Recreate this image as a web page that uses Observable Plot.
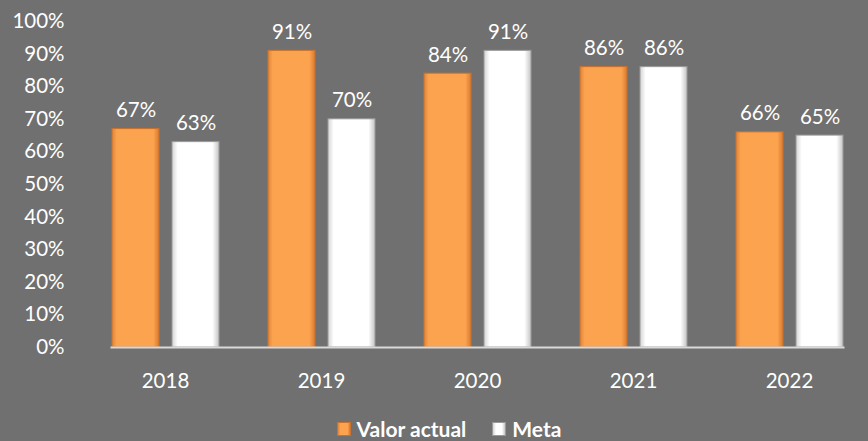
<!DOCTYPE html>
<html>
<head>
<meta charset="utf-8">
<script src="https://cdn.jsdelivr.net/npm/d3@7"></script>
<script src="https://cdn.jsdelivr.net/npm/@observablehq/plot@0.6"></script>
<style>
  html, body { margin: 0; padding: 0; background: #707070; overflow: hidden; }
  #chart { width: 868px; }
  .legend { display: flex; justify-content: center; align-items: center; font-family: Lato, "Open Sans", sans-serif; font-weight: bold; font-size: 21px; line-height: 22px; color: #fff; height: 22px; margin-top: 8px; padding-left: 30px; }
  .legend .sw { display: inline-block; width: 14px; height: 14px; margin-right: 6px; box-sizing: border-box; }
  .legend .item { display: flex; align-items: center; margin: 0 13px; }
</style>
</head>
<body>
<div id="chart"></div>
<script>
const years = ["2018", "2019", "2020", "2021", "2022"];
const seriesNames = ["Valor actual", "Meta"];
const valorActual = [67, 91, 84, 86, 66];
const meta = [63, 70, 91, 86, 65];
const yTicks = [0, 10, 20, 30, 40, 50, 60, 70, 80, 90, 100];

const rows = [];
years.forEach((y, i) => {
  rows.push({year: y, series: seriesNames[0], value: valorActual[i]});
  rows.push({year: y, series: seriesNames[1], value: meta[i]});
});

const fontFamily = 'Lato, "Open Sans", sans-serif';

const plot = Plot.plot({
  width: 868,
  height: 410,
  marginLeft: 85,
  marginRight: 0,
  marginTop: 21,
  marginBottom: 63,
  style: {background: "#707070", color: "#fff", fontFamily, fontSize: "20.5px"},
  y: {domain: [0, 100], ticks: yTicks, tickFormat: d => d + "%", tickSize: 0, tickPadding: 47, label: null},
  fx: {domain: years, paddingInner: 0.31, paddingOuter: 0.155, label: null, tickSize: 0, tickPadding: 26},
  x: {domain: seriesNames, paddingInner: 0.22, paddingOuter: 0, axis: null},
  marks: [
    Plot.barY(rows.filter(d => d.series === seriesNames[0]), {fx: "year", x: "series", y: "value", fill: "url(#gOrange)", stroke: "#c8722f", strokeWidth: 1}),
    Plot.barY(rows.filter(d => d.series === seriesNames[1]), {fx: "year", x: "series", y: "value", fill: "url(#gWhite)", stroke: "#9a9a9a", strokeWidth: 1}),
    Plot.frame({anchor: "bottom", facet: "super", stroke: "#d9d9d9", strokeWidth: 2}),
    Plot.text(rows, {fx: "year", x: "series", y: "value", text: d => d.value + "%", lineAnchor: "bottom", dy: -12, fill: "#fff", fontSize: 20.5})
  ]
});

const defs = d3.select(plot).insert("defs", ":first-child");
const og = defs.append("linearGradient").attr("id", "gOrange").attr("x1", 0).attr("x2", 1).attr("y1", 0).attr("y2", 0);
[["0%", "#e0843a"], ["10%", "#fba34f"], ["88%", "#fba34f"], ["100%", "#d97a30"]].forEach(([o, c]) => og.append("stop").attr("offset", o).attr("stop-color", c));
const wg = defs.append("linearGradient").attr("id", "gWhite").attr("x1", 0).attr("x2", 1).attr("y1", 0).attr("y2", 0);
[["0%", "#d4d4d4"], ["12%", "#ffffff"], ["86%", "#ffffff"], ["100%", "#c4c4c4"]].forEach(([o, c]) => wg.append("stop").attr("offset", o).attr("stop-color", c));

document.getElementById("chart").appendChild(plot);

const legend = document.createElement("div");
legend.className = "legend";
const swatches = [["Valor actual", "linear-gradient(90deg,#e0843a,#fba34f 20%,#fba34f 80%,#d97a30)", "#c8722f"], ["Meta", "linear-gradient(90deg,#d4d4d4,#fff 25%,#fff 75%,#c4c4c4)", "#9a9a9a"]];
swatches.forEach(([name, bg, bd]) => {
  const item = document.createElement("span");
  item.className = "item";
  const sw = document.createElement("span");
  sw.className = "sw";
  sw.style.background = bg;
  sw.style.border = "1px solid " + bd;
  item.appendChild(sw);
  item.appendChild(document.createTextNode(name));
  legend.appendChild(item);
});
document.getElementById("chart").appendChild(legend);
</script>
</body>
</html>
